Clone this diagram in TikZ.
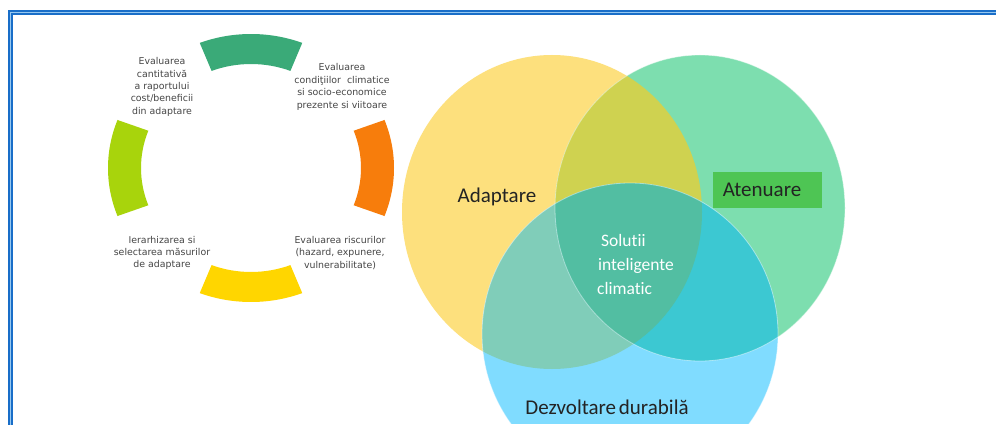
\documentclass[tikz,border=0pt]{standalone}
\usepackage{fontspec}
\newfontfamily\ringfont{DejaVu Sans}
\newfontfamily\vennfont[Ligatures={NoCommon}]{Carlito}
\definecolor{frameDark}{RGB}{25,110,200}
\definecolor{frameLight}{RGB}{150,200,240}
\definecolor{segG}{RGB}{58,170,120}
\definecolor{segO}{RGB}{247,125,12}
\definecolor{segY}{RGB}{255,214,0}
\definecolor{segL}{RGB}{168,212,12}
\definecolor{ringText}{RGB}{70,70,70}
\definecolor{vY}{RGB}{253,224,125}
\definecolor{vG}{RGB}{125,222,175}
\definecolor{vB}{RGB}{128,220,255}
\definecolor{vYG}{RGB}{207,210,80}
\definecolor{vYB}{RGB}{128,205,185}
\definecolor{vGB}{RGB}{60,200,210}
\definecolor{vC}{RGB}{82,190,162}
\definecolor{atBox}{RGB}{78,197,84}
\definecolor{vText}{RGB}{35,35,35}
\tikzset{
  ringlabel/.style={font=\ringfont\fontsize{9.4}{12.4}\selectfont, text=ringText, align=center, inner sep=0pt},
  vennlabel/.style={font=\vennfont\fontsize{21}{24}\selectfont, text=vText, inner sep=0pt},
}
\newcommand\ringseg[3]{%
  \fill[#1] ({251+143*cos(#2)},{168+134*sin(#2)}) arc[start angle=#2, end angle=#3, x radius=143, y radius=134]
    -- ({251+110*cos(#3)},{168+104*sin(#3)}) arc[start angle=#3, end angle=#2, x radius=110, y radius=104] -- cycle;}
\newcommand\ellA{(552,212) ellipse [x radius=150, y radius=157]}
\newcommand\ellB{(700,208) ellipse [x radius=145, y radius=153]}
\newcommand\ellC{(630,334) ellipse [x radius=148, y radius=151]}
\begin{document}
\begin{tikzpicture}[x=1pt,y=-1pt]
\useasboundingbox (0,0) rectangle (996,425);
\fill[white] (0,0) rectangle (996,425);
% frame
\draw[frameLight, line width=4.2pt] (10.5,425) -- (10.5,12.4) -- (996,12.4);
\draw[frameDark, line width=2pt] (9,425) -- (9,10.7) -- (996,10.7);
\draw[frameDark, line width=1.2pt] (12,425) -- (12,14) -- (996,14);
% ring
\ringseg{segG}{249}{291}
\ringseg{segO}{-21}{21}
\ringseg{segY}{69}{111}
\ringseg{segL}{159}{201}
\node[ringlabel] (tl) at (162,87) {Evaluarea\\cantitativă\\a raportului\\cost/beneficii\\din adaptare};
\node[ringlabel] (tr) at (342,87) {Evaluarea\\condiţiilor\ \ climatice\\si socio-economice\\prezente si viitoare};
\node[ringlabel] (bl) at (162,253) {Ierarhizarea si\\selectarea măsurilor\\de adaptare};
\node[ringlabel] (br) at (340,253) {Evaluarea riscurilor\\(hazard, expunere,\\vulnerabilitate)};
% venn
\begin{scope}
\clip (14,0) rectangle (996,423);
\fill[vY] \ellA;
\fill[vG] \ellB;
\fill[vB] \ellC;
\begin{scope}\clip \ellA; \fill[vYG] \ellB; \end{scope}
\begin{scope}\clip \ellA; \fill[vYB] \ellC; \end{scope}
\begin{scope}\clip \ellB; \fill[vGB] \ellC; \end{scope}
\begin{scope}\clip \ellA; \clip \ellB; \fill[vC] \ellC; \end{scope}
\draw[white, opacity=0.45, line width=0.8pt] \ellB;
\draw[white, opacity=0.45, line width=0.8pt] \ellC;
\end{scope}
\node[vennlabel] (adapt) at (497,197) {Adaptare};
\node[vennlabel, fill=atBox, minimum width=109pt, minimum height=36pt] (aten) at (767,190) {Atenuare\hspace*{10pt}};
\node[vennlabel, text=white, font=\vennfont\fontsize{17.5}{24}\selectfont, align=left, anchor=west] (sol) at (597,264) {\hspace*{4pt}Solutii\\\hspace*{1pt}inteligente\\climatic};
\node[vennlabel] (dezv) at (607,407) {Dezvoltare\hspace{-2pt} durabilă};
\end{tikzpicture}
\end{document}
